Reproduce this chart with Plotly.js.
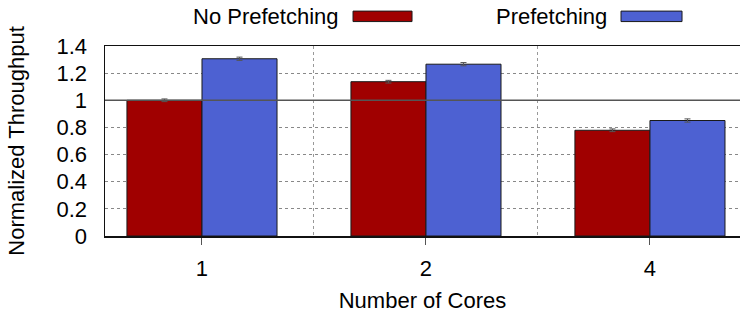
<!DOCTYPE html>
<html>
<head>
<meta charset="utf-8">
<script src="https://cdn.plot.ly/plotly-3.0.1.min.js"></script>
<style>html,body{margin:0;padding:0;background:#fff;}#chart{width:740px;height:314px;}</style>
</head>
<body>
<div id="chart"></div>
<script>
// Data
var cores = ["1", "2", "4"];
var noPrefetching = [1.0, 1.137, 0.779];
var noPrefetchingErr = [0.01, 0.01, 0.01];
var prefetching = [1.306, 1.266, 0.851];
var prefetchingErr = [0.012, 0.012, 0.012];
var yTicks = [0, 0.2, 0.4, 0.6, 0.8, 1, 1.2, 1.4];

var xPos = cores.map(function (c, i) { return i; });
var FONT = "Liberation Sans, Arial, Helvetica, sans-serif";
var FS = 22;

var traces = [
  {
    type: "bar", name: "No Prefetching", x: xPos, y: noPrefetching,
    marker: { color: "#a00000", line: { color: "#1a1a1a", width: 1 } },
    error_y: { type: "data", array: noPrefetchingErr, visible: true, color: "#555", thickness: 1, width: 3 },
    showlegend: false, hoverinfo: "skip"
  },
  {
    type: "bar", name: "Prefetching", x: xPos, y: prefetching,
    marker: { color: "#4d61d2", line: { color: "#1a1a1a", width: 1 } },
    error_y: { type: "data", array: prefetchingErr, visible: true, color: "#555", thickness: 1, width: 3 },
    showlegend: false, hoverinfo: "skip"
  }
];

var layout = {
  width: 740, height: 314,
  margin: { l: 105, r: 0, t: 45.5, b: 78, pad: 0 },
  paper_bgcolor: "#fff", plot_bgcolor: "#fff",
  font: { family: FONT, size: FS, color: "#000" },
  barmode: "group", bargap: 0.33, bargroupgap: 0,
  showlegend: false,
  xaxis: {
    range: [-0.433, 2.402],
    tickvals: xPos, ticktext: cores,
    ticks: "outside", ticklen: 7, tickcolor: "#555", tickwidth: 1,
    ticklabelstandoff: 5,
    showgrid: false, zeroline: false,
    showline: true, mirror: true, linecolor: "#111", linewidth: 1.5,
    minor: { tick0: 0.5, dtick: 1, showgrid: true, gridcolor: "#999", griddash: "dot", gridwidth: 1, ticks: "" },
    title: { text: "Number of Cores", font: { family: FONT, size: FS, color: "#000" }, standoff: 12 },
    tickfont: { family: FONT, size: FS, color: "#000" },
    fixedrange: true
  },
  yaxis: {
    range: [0, 1.4],
    tickvals: yTicks,
    ticks: "", showgrid: true, gridcolor: "#888", griddash: "dot", gridwidth: 1,
    zeroline: false, showline: true, mirror: false, linecolor: "#111", linewidth: 1.5,
    ticklabelstandoff: 12,
    title: { text: "Normalized Throughput", font: { family: FONT, size: FS, color: "#000" }, standoff: 26 },
    tickfont: { family: FONT, size: FS, color: "#000" },
    fixedrange: true
  },
  shapes: [
    { type: "line", xref: "paper", yref: "y", x0: 0, x1: 1, y0: 1, y1: 1, layer: "above",
      line: { color: "#555", width: 1.5 } },
    { type: "rect", xref: "paper", yref: "paper", x0: 0.3906, x1: 0.4835, y0: 1.1286, y1: 1.1837,
      fillcolor: "#a00000", line: { color: "#1a1a1a", width: 1 } },
    { type: "rect", xref: "paper", yref: "paper", x0: 0.8126, x1: 0.9087, y0: 1.1286, y1: 1.1837,
      fillcolor: "#4d61d2", line: { color: "#1a1a1a", width: 1 } }
  ],
  annotations: [
    { xref: "paper", yref: "paper", x: 0.372, y: 1.157, xanchor: "right", yanchor: "middle",
      text: "No Prefetching", showarrow: false, font: { family: FONT, size: FS, color: "#000" } },
    { xref: "paper", yref: "paper", x: 0.794, y: 1.157, xanchor: "right", yanchor: "middle",
      text: "Prefetching", showarrow: false, font: { family: FONT, size: FS, color: "#000" } }
  ]
};

Plotly.newPlot("chart", traces, layout, { displayModeBar: false, staticPlot: true });
</script>
</body>
</html>
